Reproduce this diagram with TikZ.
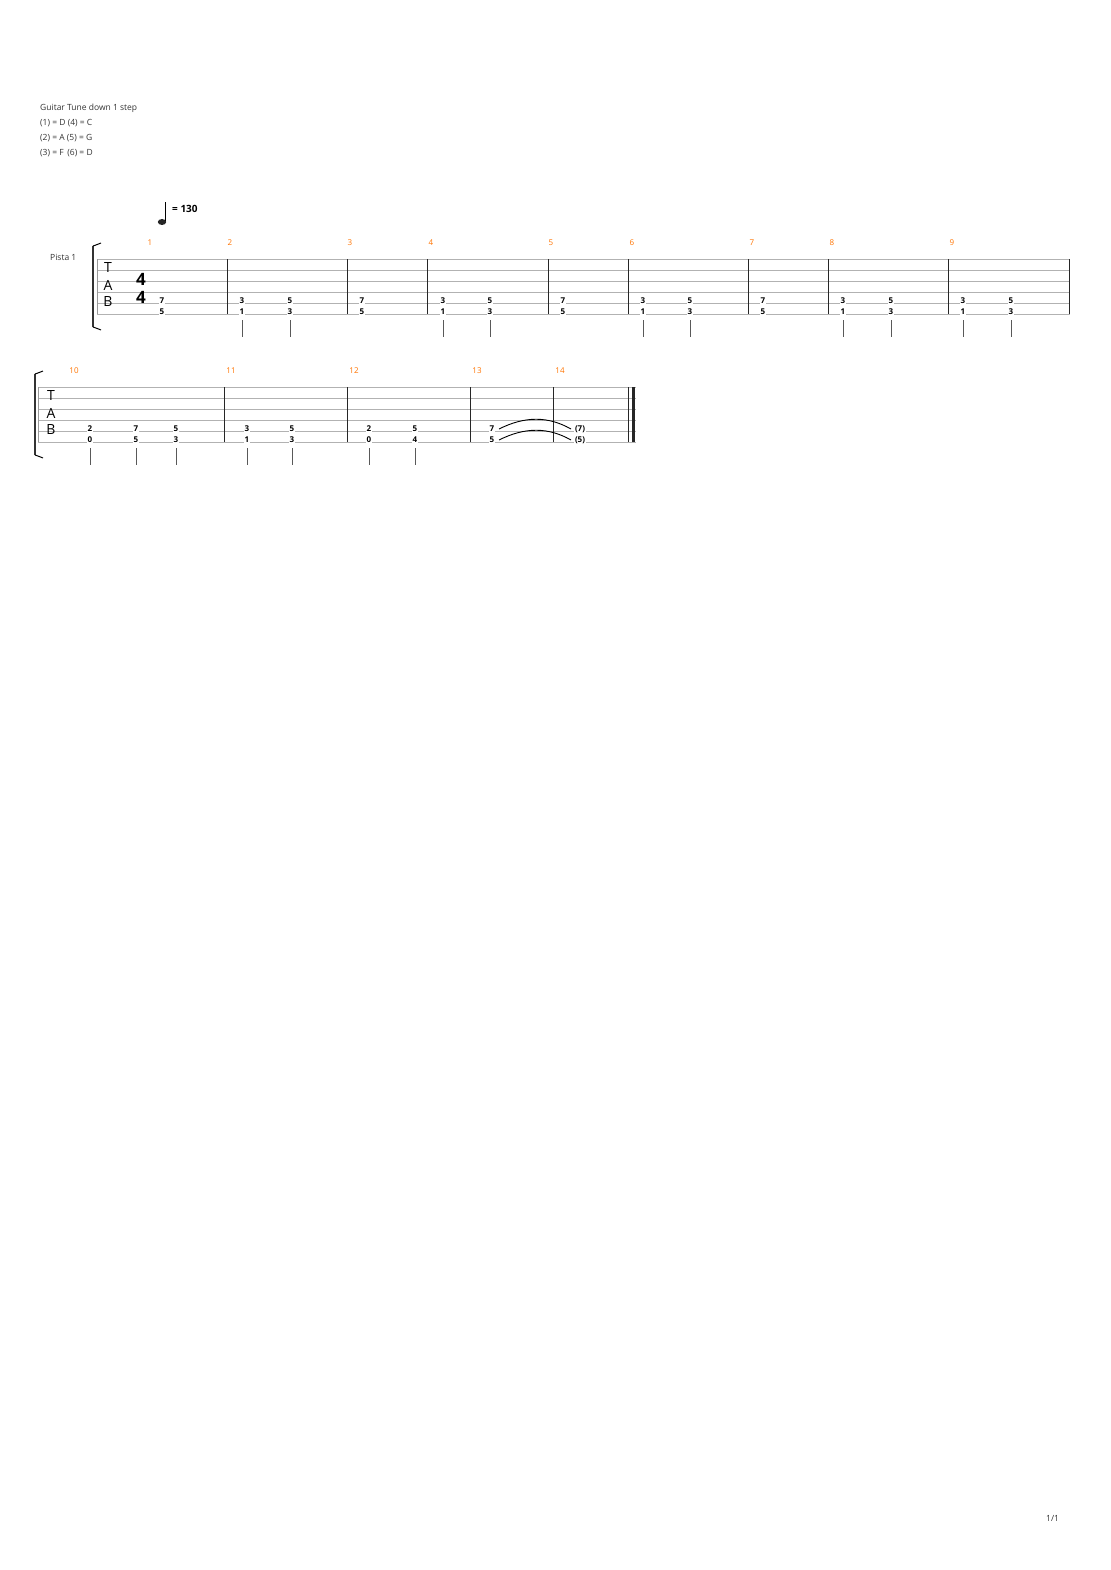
\documentclass[tikz,border=0pt]{standalone}
\usepackage{fontspec}
\setmainfont{Open Sans}
\begin{document}
\begin{tikzpicture}[x=1pt,y=-1pt,
  txt/.style={anchor=west,inner sep=0,font=\fontsize{8.5}{9}\selectfont,text=black!80},
  mnum/.style={inner sep=0,font=\fontsize{8}{9}\selectfont,text=orange!90!red},
  fret/.style={inner sep=0.6pt,fill=white,font=\bfseries\fontsize{8}{8}\selectfont},
  sline/.style={gray!60,line width=0.6pt},
  bar/.style={black!85,line width=0.8pt},
  stem/.style={gray!70!black,line width=0.6pt},
  tab/.style={inner sep=0,font=\fontsize{14}{14}\selectfont}]
\useasboundingbox (0,0) rectangle (1110,1570);
\node[txt] (h1) at (40,108) {Guitar Tune down 1 step};
\node[txt] (h2) at (40,123) {(1) = D (4) = C};
\node[txt] (h3) at (40,138) {(2) = A (5) = G};
\node[txt] (h4) at (40,153) {(3) = F\, (6) = D};
\node[txt] (pg) at (1046,1518) {1/1};
% tempo
\fill[black!85] (162,222) ellipse (4.2 and 3) ;
\draw[line width=0.8pt] (165.8,221) -- (165.8,202);
\node[inner sep=0,anchor=west,font=\bfseries\fontsize{10}{10}\selectfont] (tempo) at (172,209) {= 130};
\node[txt] (pista) at (50,257) {Pista 1};
% row 1 staff
\foreach \y in {259,270,281,292,303,314} \draw[sline] (97,\y) -- (1070,\y);
\draw[gray!80,line width=0.8pt] (97,259) -- (97,314);
\foreach \x in {227,347,427,548,628,748,828,948,1069} \draw[bar] (\x,259) -- (\x,314);
\draw[line width=2pt,black!80] (93,246) -- (93,327);
\draw[line width=1pt] (93,246) .. controls (96,245) .. (101,243);
\draw[line width=1pt] (93,327) .. controls (96,328) .. (101,330);
\node[tab] (T1) at (108,268) {T};
\node[tab] (A1) at (108,285) {A};
\node[tab] (B1) at (108,302) {B};
\node[inner sep=0,font=\bfseries\fontsize{17}{17}\selectfont] (ts1) at (141,279) {4};
\node[inner sep=0,font=\bfseries\fontsize{17}{17}\selectfont] (ts2) at (141,297) {4};
\foreach \x/\n in {150/1,230/2,350/3,431/4,551/5,632/6,752/7,832/8,952/9}
  \node[mnum] (m\n) at (\x,243) {\n};
\foreach \x/\a/\b/\s in {162/7/5/0,242/3/1/1,290/5/3/1,362/7/5/0,443/3/1/1,490/5/3/1,563/7/5/0,643/3/1/1,690/5/3/1,763/7/5/0,843/3/1/1,891/5/3/1,963/3/1/1,1011/5/3/1}{
  \node[fret] at (\x,301) {\a};
  \node[fret] at (\x,312) {\b};
  \ifnum\s=1 \draw[stem] (\x,320) -- (\x,337);\fi
}
% row 2 staff
\foreach \y in {387,398,409,420,431,442} \draw[sline] (38,\y) -- (636,\y);
\draw[gray!80,line width=0.8pt] (38,387) -- (38,442);
\foreach \x in {224,347,470,553} \draw[bar] (\x,387) -- (\x,442);
\draw[bar] (628.5,387) -- (628.5,442);
\draw[line width=2.5pt,black!85] (633.5,387) -- (633.5,442);
\draw[line width=2pt,black!80] (35,374) -- (35,455);
\draw[line width=1pt] (35,374) .. controls (38,373) .. (43,371);
\draw[line width=1pt] (35,455) .. controls (38,456) .. (43,458);
\node[tab] (T2) at (51,396) {T};
\node[tab] (A2) at (51,413) {A};
\node[tab] (B2) at (51,430) {B};
\foreach \x/\n in {74/10,231/11,354/12,477/13,560/14}
  \node[mnum] (n\n) at (\x,371) {\n};
\foreach \x/\a/\b/\s in {90/2/0/1,136/7/5/1,176/5/3/1,247/3/1/1,292/5/3/1,369/2/0/1,415/5/4/1,492/7/5/0}{
  \node[fret] at (\x,429) {\a};
  \node[fret] at (\x,440) {\b};
  \ifnum\s=1 \draw[stem] (\x,448) -- (\x,465);\fi
}
\node[fret] (p7) at (580,429) {(7)};
\node[fret] (p5) at (580,440) {(5)};
\draw[line width=0.9pt] (499,429) .. controls (525,416) and (548,416) .. (571,429);
\draw[line width=0.9pt] (499,440) .. controls (525,427) and (548,427) .. (571,440);
\end{tikzpicture}
\end{document}
